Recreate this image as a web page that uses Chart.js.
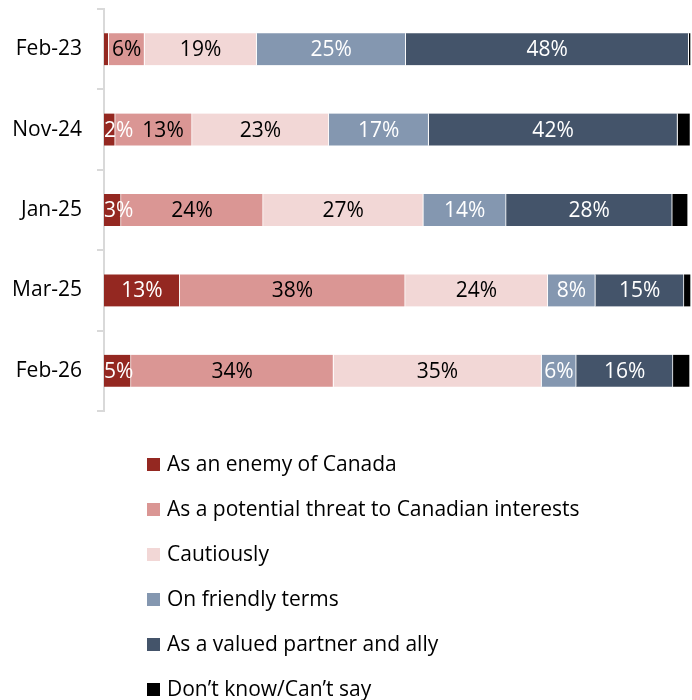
<!DOCTYPE html>
<html>
<head>
<meta charset="utf-8">
<script src="https://cdn.jsdelivr.net/npm/chart.js@4/dist/chart.umd.min.js"></script>
<style>
  html, body { margin: 0; padding: 0; background: #ffffff; }
  #wrap { position: relative; width: 692px; height: 700px; }
</style>
</head>
<body>
<div id="wrap"><canvas id="c" width="692" height="700"></canvas></div>
<script>
const categories = ['Feb-23', 'Nov-24', 'Jan-25', 'Mar-25', 'Feb-26'];
const seriesNames = [
  'As an enemy of Canada',
  'As a potential threat to Canadian interests',
  'Cautiously',
  'On friendly terms',
  'As a valued partner and ally',
  'Don\u2019t know/Can\u2019t say'
];
const enemy    = [0.8, 1.9, 2.9, 12.9, 4.6];
const threat   = [6.1, 13.1, 24.2, 38.4, 34.49];
const cautious = [19.1, 23.3, 27.3, 24.3, 35.45];
const friendly = [25.4, 17.0, 14.1, 8.1, 5.9];
const valued   = [48.2, 42.4, 28.3, 15.1, 16.49];
const dontKnow = [0.4, 2.2, 2.7, 1.2, 2.9];

const colors = ['#942821', '#da9694', '#f2d7d6', '#8497b0', '#44546a', '#000000'];
const labelColors = ['#ffffff', '#000000', '#000000', '#ffffff', '#ffffff', null];
const FONT = '"Open Sans", Lato, "Liberation Sans", sans-serif';
const FSIZE = 21;

const seriesValues = [enemy, threat, cautious, friendly, valued, dontKnow];

const datasets = seriesValues.map((vals, i) => ({
  label: seriesNames[i],
  data: vals,
  backgroundColor: colors[i],
  borderColor: '#ffffff',
  borderWidth: { left: 0, right: 1, top: 0, bottom: 0 },
  borderSkipped: false,
  barThickness: 32
}));

const valueLabels = {
  id: 'valueLabels',
  afterDatasetsDraw(chart) {
    const ctx = chart.ctx;
    const area = chart.chartArea;
    ctx.save();
    ctx.font = FSIZE + 'px ' + FONT;
    ctx.textBaseline = 'middle';
    ctx.textAlign = 'left';
    const prevRight = categories.map(() => -Infinity);
    chart.data.datasets.forEach((ds, di) => {
      if (!labelColors[di]) return;
      const meta = chart.getDatasetMeta(di);
      meta.data.forEach((bar, i) => {
        const v = ds.data[i];
        if (v < 1.5) return;
        const txt = Math.round(v) + '%';
        const w = ctx.measureText(txt).width;
        const cx = (bar.x + bar.base) / 2;
        let left = cx - w / 2;
        if (left < area.left) left = area.left;
        if (left < prevRight[i] + 9) left = prevRight[i] + 9;
        prevRight[i] = left + w;
        ctx.fillStyle = labelColors[di];
        ctx.fillText(txt, left, bar.y + 1);
      });
    });
    ctx.restore();
  }
};

const listLegend = {
  id: 'listLegend',
  afterDraw(chart) {
    const ctx = chart.ctx;
    ctx.save();
    ctx.font = FSIZE + 'px ' + FONT;
    ctx.textBaseline = 'middle';
    ctx.textAlign = 'left';
    const x0 = 147, y0 = 464.5, step = 45, box = 13;
    seriesNames.forEach((name, i) => {
      const y = y0 + i * step;
      ctx.fillStyle = colors[i];
      ctx.fillRect(x0, y - box / 2, box, box);
      ctx.fillStyle = '#000000';
      ctx.fillText(name, x0 + 20, y + 1);
    });
    ctx.restore();
  }
};

new Chart(document.getElementById('c'), {
  type: 'bar',
  data: { labels: categories, datasets },
  options: {
    indexAxis: 'y',
    responsive: false,
    animation: false,
    maintainAspectRatio: false,
    layout: { padding: { top: 9, right: 1, bottom: 289, left: 0 } },
    plugins: {
      legend: { display: false },
      tooltip: { enabled: false }
    },
    scales: {
      x: {
        stacked: true,
        min: 0,
        max: 100,
        display: false
      },
      y: {
        stacked: true,
        offset: true,
        afterFit(scale) {
          scale.width = 104;
          scale.paddingTop = 0;
          scale.paddingBottom = 0;
        },
        grid: {
          display: true,
          offset: true,
          drawOnChartArea: false,
          drawTicks: true,
          tickLength: 7,
          color: '#d9d9d9',
          lineWidth: 2
        },
        border: { display: true, color: '#d9d9d9', width: 2 },
        ticks: {
          color: '#000000',
          padding: 15,
          font: { size: FSIZE, family: FONT }
        }
      }
    }
  },
  plugins: [valueLabels, listLegend]
});
</script>
</body>
</html>
